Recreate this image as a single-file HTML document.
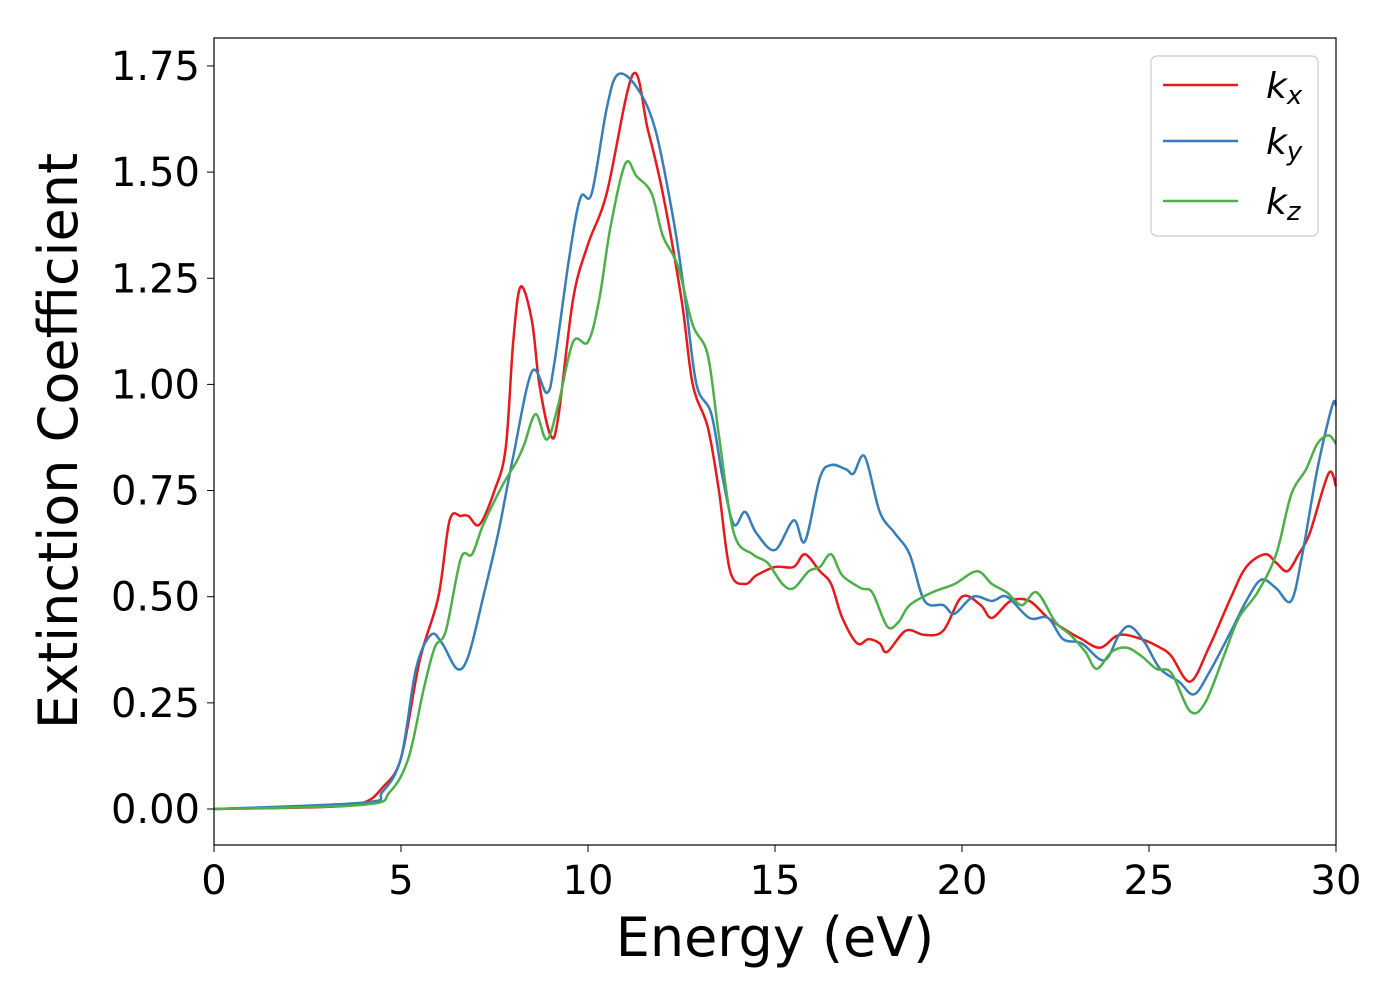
<!DOCTYPE html>
<html><head><meta charset="utf-8"><style>
body{margin:0;background:#fff;}
svg{display:block;font-family:"DejaVu Sans","Liberation Sans",sans-serif;}
</style></head><body>
<svg id="chart" width="1400" height="1000" viewBox="0 0 1400 1000">
<g id="ticks"></g>
<g id="series"></g>
<rect x="214" y="38" width="1122" height="807" fill="none" stroke="#000" stroke-width="1.2"/>
<text x="775" y="956" font-size="54" text-anchor="middle">Energy (eV)</text>
<text transform="translate(77,441) rotate(-90)" font-size="54" text-anchor="middle">Extinction Coefficient</text>
<g>
<rect x="1151" y="56" width="167" height="180" rx="6" fill="#fff" stroke="#ccc" stroke-width="1.2"/>
<line x1="1163" y1="85" x2="1238" y2="85" stroke="#e41a1c" stroke-width="2.5"/>
<text x="1266" y="98" font-size="36" font-style="italic">k<tspan font-size="26" dy="6">x</tspan></text>
<line x1="1163" y1="141" x2="1238" y2="141" stroke="#377eb8" stroke-width="2.5"/>
<text x="1266" y="154" font-size="36" font-style="italic">k<tspan font-size="26" dy="6">y</tspan></text>
<line x1="1163" y1="201" x2="1238" y2="201" stroke="#4daf4a" stroke-width="2.5"/>
<text x="1266" y="214" font-size="36" font-style="italic">k<tspan font-size="26" dy="6">z</tspan></text>
</g>
</svg>
<script>
const xTicks=[0,5,10,15,20,25,30];
const yTicks=[0,0.25,0.5,0.75,1.0,1.25,1.5,1.75];
const kxX=[0,3,4,4.5,5,5.5,6,6.3,6.6,6.8,7.1,7.5,7.8,8.0,8.2,8.5,8.7,9.0,9.2,9.6,10,10.5,11.2,11.6,12,12.5,12.8,13.2,13.5,13.8,14.2,14.5,15,15.5,15.8,16.2,16.5,16.8,17.2,17.5,17.8,18,18.5,19,19.5,20,20.5,20.8,21.3,21.8,22.3,22.8,23.2,23.7,24.2,24.8,25.3,25.6,26.1,26.6,27.2,27.6,28.1,28.4,28.7,29,29.3,29.8,30];
const kxY=[0,0.005,0.015,0.05,0.12,0.35,0.5,0.68,0.69,0.69,0.67,0.75,0.85,1.1,1.23,1.15,1.0,0.88,0.92,1.2,1.33,1.45,1.73,1.6,1.45,1.2,1.0,0.9,0.75,0.56,0.53,0.55,0.57,0.57,0.6,0.56,0.53,0.45,0.39,0.4,0.39,0.37,0.42,0.41,0.42,0.5,0.48,0.45,0.49,0.49,0.45,0.42,0.4,0.38,0.41,0.4,0.38,0.36,0.3,0.38,0.5,0.57,0.6,0.58,0.56,0.6,0.65,0.79,0.76];
const kyX=[0,4,4.5,5,5.4,5.8,6.1,6.5,6.8,7.2,7.6,8.0,8.5,8.9,9.1,9.5,9.8,10.1,10.5,10.8,11.3,11.8,12.3,12.6,12.9,13.3,13.6,13.9,14.2,14.5,15,15.5,15.8,16.2,16.5,16.9,17.1,17.4,17.8,18.2,18.6,19,19.5,19.8,20.3,20.8,21.2,21.8,22.3,22.7,23.2,23.8,24.2,24.5,24.9,25.3,25.8,26.2,26.6,27.2,27.6,28,28.4,28.8,29.1,29.5,29.9,30];
const kyY=[0,0.015,0.04,0.12,0.33,0.41,0.39,0.33,0.36,0.5,0.65,0.83,1.03,0.98,1.05,1.3,1.44,1.45,1.65,1.73,1.7,1.6,1.38,1.2,1.0,0.93,0.78,0.67,0.7,0.65,0.61,0.68,0.63,0.78,0.81,0.8,0.79,0.83,0.7,0.65,0.6,0.49,0.48,0.46,0.5,0.49,0.5,0.45,0.45,0.4,0.39,0.35,0.41,0.43,0.39,0.33,0.3,0.27,0.32,0.42,0.49,0.54,0.52,0.49,0.6,0.8,0.95,0.95];
const kzX=[0,4,4.7,5.2,5.6,5.9,6.2,6.6,6.9,7.2,7.7,8.1,8.3,8.6,8.9,9.2,9.6,10,10.3,10.6,11,11.3,11.7,12,12.4,12.8,13.2,13.5,13.9,14.4,14.8,15.2,15.5,15.9,16.2,16.5,16.8,17.3,17.6,18,18.3,18.6,19.2,19.8,20.4,20.8,21.2,21.6,22,22.5,22.9,23.3,23.6,24,24.4,24.8,25.2,25.6,26.1,26.5,27,27.4,27.9,28.4,28.8,29.2,29.5,29.8,30];
const kzY=[0,0.01,0.04,0.12,0.28,0.38,0.42,0.59,0.6,0.67,0.76,0.82,0.86,0.93,0.87,0.95,1.1,1.1,1.2,1.37,1.52,1.49,1.45,1.35,1.28,1.14,1.07,0.88,0.65,0.6,0.58,0.53,0.52,0.56,0.57,0.6,0.55,0.52,0.51,0.43,0.44,0.48,0.51,0.53,0.56,0.53,0.51,0.48,0.51,0.44,0.41,0.37,0.33,0.37,0.38,0.36,0.33,0.32,0.23,0.25,0.36,0.45,0.51,0.6,0.74,0.8,0.86,0.88,0.86];
const sx=v=>214+v*(1122/30);
const sy=v=>809-v*424.6;
const NS='http://www.w3.org/2000/svg';
const tg=document.getElementById('ticks');
xTicks.forEach(t=>{
  const l=document.createElementNS(NS,'line');
  l.setAttribute('x1',sx(t));l.setAttribute('x2',sx(t));l.setAttribute('y1',845);l.setAttribute('y2',852);l.setAttribute('stroke','#000');
  
  
  tg.appendChild(l);
  const tx=document.createElementNS(NS,'text');
  tx.setAttribute('x',sx(t));tx.setAttribute('y',894);tx.setAttribute('font-size','40');tx.setAttribute('text-anchor','middle');
  tx.textContent=t;
  
  
  tg.appendChild(tx);
});
yTicks.forEach(t=>{
  const l=document.createElementNS(NS,'line');
  l.setAttribute('x1',207);l.setAttribute('x2',214);l.setAttribute('y1',sy(t));l.setAttribute('y2',sy(t));l.setAttribute('stroke','#000');
  
  
  tg.appendChild(l);
  const tx=document.createElementNS(NS,'text');
  tx.setAttribute('x',200);tx.setAttribute('y',sy(t)+14);tx.setAttribute('font-size','40');tx.setAttribute('text-anchor','end');
  tx.textContent=t.toFixed(2);
  
  
  tg.appendChild(tx);
});
function pathD(xs,ys){
  const p=xs.map((x,i)=>[sx(x),sy(ys[i])]);
  let d='M'+p[0][0]+','+p[0][1];
  for(let i=0;i<p.length-1;i++){
    const p0=p[Math.max(0,i-1)],p1=p[i],p2=p[i+1],p3=p[Math.min(p.length-1,i+2)];
    const c1=[p1[0]+(p2[0]-p0[0])/6,p1[1]+(p2[1]-p0[1])/6];
    const c2=[p2[0]-(p3[0]-p1[0])/6,p2[1]-(p3[1]-p1[1])/6];
    d+=' C'+c1+' '+c2+' '+p2;
  }
  return d;
}
const sg=document.getElementById('series');
[[kxX,kxY,'#e41a1c','series-kx'],[kyX,kyY,'#377eb8','series-ky'],[kzX,kzY,'#4daf4a','series-kz']].forEach(s=>{
  const p=document.createElementNS(NS,'path');
  p.setAttribute('d',pathD(s[0],s[1]));p.setAttribute('fill','none');p.setAttribute('stroke',s[2]);p.setAttribute('stroke-width','2.5');
  
  
  sg.appendChild(p);
});
</script>
</body></html>
